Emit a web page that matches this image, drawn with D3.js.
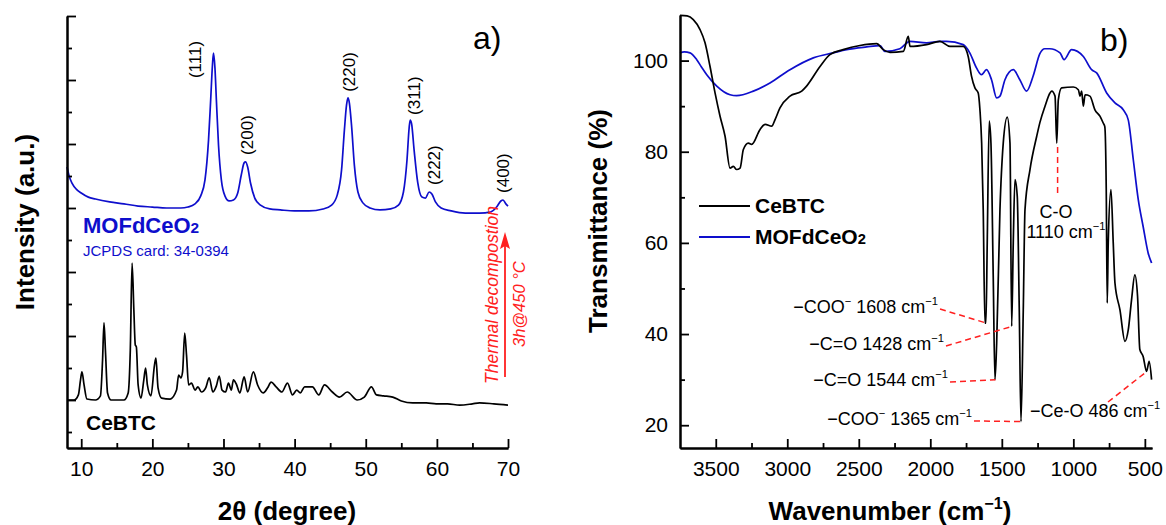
<!DOCTYPE html>
<html>
<head>
<meta charset="utf-8">
<script src="https://cdn.jsdelivr.net/npm/d3@7"></script>
<style>
body { margin: 0; background: #fff; }
svg text { font-family: "Liberation Sans", Arial, sans-serif; }
</style>
</head>
<body>
<svg id="chart" width="1166" height="525"></svg>
<script>
// a) XRD patterns: [2theta (deg), intensity (a.u.)]
var xrdCeBTC = [
    [8.0,1.5],[9.0,1.5],[9.6,1.66],[9.9,2.13],[10.1,2.38],[10.4,1.97],[10.8,1.53],[12,1.5],[12.7,1.63],[13.0,2.75],
    [13.2,3.91],[13.4,3.06],[13.7,1.72],[14.2,1.5],[16.0,1.5],[16.6,1.72],[16.9,3.06],[17.15,5.78],[17.4,4.31],[17.6,3.22],
    [17.75,3.16],[18.0,1.97],[18.4,1.56],[18.8,2.13],[19.05,2.5],[19.3,1.97],[19.8,1.63],[20.3,2.59],[20.5,2.81],[20.8,1.88],
    [21.3,1.56],[22.5,1.53],[23.4,1.81],[23.7,2.28],[24.0,2.19],[24.25,2.38],[24.55,3.59],[24.8,2.91],[25.1,1.97],[25.5,2.03],
    [26.0,1.81],[26.4,1.91],[26.9,1.75],[27.5,1.88],[28.0,2.19],[28.5,1.75],[29.0,1.94],[29.4,2.25],[29.8,1.81],[30.3,1.75],
    [30.7,2.03],[31.1,1.81],[31.4,2.13],[31.8,2.0],[32.3,1.72],[32.9,2.22],[33.4,1.75],[34.2,2.38],[34.8,1.97],[35.6,1.72],
    [36.2,1.88],[36.7,2.06],[37.4,1.91],[38.2,1.75],[39.0,2.03],[39.7,1.66],[40.3,1.81],[40.8,1.72],[41.4,1.91],[42.5,1.91],
    [43.4,1.66],[44.2,1.97],[45.3,1.75],[46.3,1.59],[47.4,1.75],[48.8,1.5],[49.8,1.59],[50.8,1.91],[51.5,1.66],[52.5,1.63],
    [53.8,1.59],[55.0,1.47],[56.6,1.41],[58.5,1.41],[59.9,1.38],[61.5,1.38],[63.2,1.34],[65,1.38],[66,1.41],[68,1.38],[70,1.34]
];
var xrdCeO2 = [
    [8.0,8.78],[8.3,8.5],[8.7,8.28],[9.3,8.09],[10,7.97],[11,7.84],[12,7.78],[14,7.69],[16,7.63],[18,7.56],
    [20,7.53],[22,7.5],[24,7.5],[25,7.53],[26,7.63],[26.8,7.88],[27.4,8.38],[27.9,9.63],[28.2,10.88],[28.45,11.97],
    [28.6,12.34],[28.8,11.88],[29.0,10.88],[29.3,9.47],[29.7,8.38],[30.2,7.88],[30.8,7.72],[31.4,7.75],[32.0,7.97],[32.5,8.53],
    [32.9,8.91],[33.1,8.94],[33.4,8.78],[33.8,8.28],[34.4,7.81],[35.2,7.59],[36.5,7.47],[38,7.44],[40,7.41],[42,7.41],
    [44,7.47],[45.2,7.59],[46.0,7.91],[46.6,8.69],[47.0,9.94],[47.3,10.72],[47.5,10.94],[47.7,10.78],[48.0,10.09],[48.4,8.84],
    [48.9,8.0],[49.6,7.66],[50.6,7.5],[52,7.44],[53.5,7.47],[54.6,7.59],[55.3,8.0],[55.8,9.0],[56.1,10.0],[56.25,10.25],
    [56.45,10.13],[56.8,9.31],[57.3,8.31],[57.9,7.84],[58.4,7.81],[58.9,8.0],[59.3,7.94],[59.8,7.69],[60.6,7.5],[62,7.41],
    [64,7.34],[66,7.34],[67.6,7.38],[68.4,7.53],[69.0,7.72],[69.3,7.75],[69.7,7.63],[70,7.56]
];
var hklNames = ['(111)', '(200)', '(220)', '(311)', '(222)', '(400)'];
var hklAt = [[26.0,11.56],[33.3,9.16],[47.7,11.13],[56.8,10.41],[59.6,8.22],[69.3,7.97]];
var xrdMajor = [10, 20, 30, 40, 50, 60, 70];
var xrdMinor = [15, 25, 35, 45, 55, 65];
var intMajor = [1.5, 3.5, 5.5, 7.5, 9.5, 11.5, 13.5];
var intMinor = [0.5, 2.5, 4.5, 6.5, 8.5, 10.5, 12.5];

// b) FTIR spectra: [wavenumber (cm-1), transmittance (%)]
var irCeBTC = [
    [3750,109.9],[3700,109.8],[3657,109],[3610,106.8],[3575,103.9],[3540,98.7],[3505,92.9],[3470,87.8],[3435,83.4],[3400,76.4],
    [3377,76.8],[3354,76.1],[3330,76.4],[3307,80.5],[3272,81.9],[3249,81.6],[3190,84.9],[3155,86],[3109,85.6],[3086,87],
    [3051,89.6],[2981,92.2],[2899,93.3],[2865,94.4],[2771,98.7],[2702,101.3],[2609,102.4],[2492,103.3],[2375,103.7],[2329,102.4],
    [2282,101.8],[2189,102],[2154,105.3],[2142,103.1],[2026,103.5],[1933,104.2],[1863,103.1],[1770,103.1],[1735,100.9],[1712,96.6],
    [1688,94],[1665,92.9],[1653,89.2],[1641,81.9],[1630,67.3],[1618,42.4],[1611,42.4],[1602,60],[1588,86.7],[1576,81.9],
    [1560,52.6],[1548,30],[1536,38],[1513,67.3],[1490,81.9],[1462,87.6],[1443,81.9],[1431,41.7],[1420,60],[1408,73.9],
    [1392,70.2],[1378,45.3],[1366,20.8],[1350,45.3],[1338,67.3],[1303,76.1],[1256,83.4],[1233,86.5],[1198,90],[1163,92.9],
    [1151,93.3],[1128,92.2],[1116,81.9],[1105,91.4],[1082,94],[1000,94.2],[965,93.6],[953,92.2],[942,93.3],[930,90],
    [918,92.5],[884,92.2],[849,89.2],[814,87.8],[791,86.3],[780,85.5],[770,72],[763,46.8],[756,60],[737,71.7],
    [721,60],[709,51.2],[674,45.3],[639,38.4],[616,40.9],[593,47.5],[570,53],[551,48.3],[535,36.6],[512,35.1],
    [488,31.8],[470,34],[453,30]
];
var irCeO2 = [
    [3750,101.7],[3720,101.9],[3680,101.7],[3633,100.2],[3600,98.6],[3563,96.9],[3493,94.4],[3400,92.5],[3354,92.3],[3237,93.3],
    [3121,95.1],[2981,98],[2818,100.6],[2678,101.7],[2585,102.4],[2445,103],[2352,103.3],[2317,102],[2213,102.6],[2143,104.2],
    [2026,103.9],[1933,104.2],[1886,104.2],[1770,103.5],[1724,101.7],[1677,98.4],[1642,96.9],[1607,98],[1572,95.8],[1536,91.8],
    [1513,92.2],[1478,95.8],[1420,98],[1374,95.8],[1327,93.3],[1281,96.6],[1234,101.5],[1200,102.6],[1165,102.6],[1093,101.7],
    [1065,100.2],[1012,102.4],[930,100.9],[872,98],[837,97.3],[767,92.9],[709,90.7],[651,89.2],[616,87],[581,78.3],
    [546,69.5],[512,63.6],[477,57.8],[453,55.6]
];
var wnMajor = [3500, 3000, 2500, 2000, 1500, 1000, 500];
var wnMinor = [3250, 2750, 2250, 1750, 1250, 750];
var tMajor = [20, 40, 60, 80, 100];
var tMinor = [30, 50, 70, 90];
var bandGroup = ['COO', 'C=O', 'C=O', 'COO'];
var bandWn = [1608, 1428, 1544, 1365];
var bandT = [42.4, 41.7, 30, 20.8];
var bandLabelAt = [[938,313],[944,350],[948,386],[972,425]];

var blue = '#0e0ecc', red = '#ff2020';
var svg = d3.select('#chart');

var xL = d3.scaleLinear().domain([8, 70]).range([67, 508]);
var yL = d3.scaleLinear().domain([0, 13.5]).range([448, 16]);
var xR = d3.scaleLinear().domain([3750, 450]).range([680, 1152]);
var yR = d3.scaleLinear().domain([15, 110]).range([448, 15]);

// text with super/subscript parts: [[string, 'sup'|'sub'|undefined], ...]
var addParts = function(txt, parts, fs) {
    var shift = 0;
    parts.forEach(function(p) {
        var want = p[1] === 'sup' ? -0.42 * fs : 0;
        var ts = txt.append('tspan').text(p[0]).attr('dy', want - shift);
        if (p[1] === 'sup') ts.attr('font-size', 0.62 * fs);
        if (p[1] === 'sub') ts.attr('font-size', 0.7 * fs);
        shift = want;
    });
    return txt;
};

var addAxis = function(axis, tx, ty) {
    var g = svg.append('g').attr('transform', 'translate(' + tx + ',' + ty + ')').call(axis)
        .attr('font-size', 21).attr('font-family', '"Liberation Sans", Arial, sans-serif');
    g.select('.domain').attr('stroke-width', 2);
    g.selectAll('.tick line').attr('stroke-width', 1.8);
    g.selectAll('.tick text').attr('fill', '#000');
    return g;
};

var drawLine = function(data, xs, ys, col) {
    svg.append('path').datum(data)
        .attr('fill', 'none').attr('stroke', col).attr('stroke-width', 1.7)
        .attr('stroke-linejoin', 'round')
        .attr('d', d3.line().x(function(d) { return xs(d[0]); })
            .y(function(d) { return ys(d[1]); }).curve(d3.curveMonotoneX));
};

// ---------- a) ----------
drawLine(xrdCeO2, xL, yL, blue);
drawLine(xrdCeBTC, xL, yL, '#000');

addAxis(d3.axisBottom(xL).tickValues(xrdMajor).tickSizeInner(-9).tickSizeOuter(0).tickPadding(13).tickFormat(d3.format('d')), 0, 448);
addAxis(d3.axisBottom(xL).tickValues(xrdMinor).tickSizeInner(-5).tickSizeOuter(0).tickFormat(''), 0, 448);
addAxis(d3.axisLeft(yL).tickValues(intMajor).tickSizeInner(-9).tickSizeOuter(0).tickFormat(''), 67, 0);
addAxis(d3.axisLeft(yL).tickValues(intMinor).tickSizeInner(-5).tickSizeOuter(0).tickFormat(''), 67, 0);

svg.selectAll('.hkl').data(hklNames).enter().append('text').attr('class', 'hkl')
    .attr('transform', function(d, i) {
        return 'translate(' + xL(hklAt[i][0]) + ',' + yL(hklAt[i][1]) + ') rotate(-90)';
    })
    .attr('dy', '0.35em').attr('font-size', 17).text(function(d) { return d; });

addParts(svg.append('text').attr('x', 83).attr('y', 233).attr('font-size', 22)
    .attr('font-weight', 'bold').attr('fill', blue), [['MOFdCeO'], ['2', 'sub']], 22);
svg.append('text').attr('x', 83).attr('y', 256).attr('font-size', 15).attr('fill', blue)
    .text('JCPDS card: 34-0394');
svg.append('text').attr('x', 86).attr('y', 430).attr('font-size', 21).attr('font-weight', 'bold')
    .text('CeBTC');

// heating arrow
svg.append('line').attr('x1', 505).attr('x2', 505).attr('y1', 377).attr('y2', 246)
    .attr('stroke', red).attr('stroke-width', 1.8);
svg.append('path').attr('d', 'M505,232 L510,249 L505,246 L500,249 Z').attr('fill', red);
svg.append('text').attr('transform', 'translate(491.7,384) rotate(-90)').attr('dy', '0.35em')
    .attr('font-size', 17.5).attr('font-style', 'italic').attr('fill', red).text('Thermal decompostion');
svg.append('text').attr('transform', 'translate(519,347) rotate(-90)').attr('dy', '0.35em')
    .attr('font-size', 16.5).attr('font-style', 'italic').attr('fill', red).text('3h@450 °C');

svg.append('text').attr('x', 473).attr('y', 49).attr('font-size', 32).text('a)');
svg.append('text').attr('x', 287).attr('y', 520).attr('text-anchor', 'middle')
    .attr('font-size', 26).attr('font-weight', 'bold').text('2θ (degree)');
svg.append('text').attr('transform', 'translate(25,222) rotate(-90)').attr('dy', '0.35em')
    .attr('text-anchor', 'middle').attr('font-size', 26).attr('font-weight', 'bold')
    .text('Intensity (a.u.)');

// ---------- b) ----------
drawLine(irCeO2, xR, yR, blue);
drawLine(irCeBTC, xR, yR, '#000');

addAxis(d3.axisBottom(xR).tickValues(wnMajor).tickSizeInner(-9).tickSizeOuter(0).tickPadding(13).tickFormat(d3.format('d')), 0, 448);
addAxis(d3.axisBottom(xR).tickValues(wnMinor).tickSizeInner(-5).tickSizeOuter(0).tickFormat(''), 0, 448);
addAxis(d3.axisLeft(yR).tickValues(tMajor).tickSizeInner(-9).tickSizeOuter(0).tickPadding(12).tickFormat(d3.format('d')), 680, 0);
addAxis(d3.axisLeft(yR).tickValues(tMinor).tickSizeInner(-5).tickSizeOuter(0).tickFormat(''), 680, 0);

// legend
var legend = [['CeBTC', '#000', 206], ['MOFdCeO', blue, 237]];
legend.forEach(function(l) {
    svg.append('line').attr('x1', 699).attr('x2', 750).attr('y1', l[2]).attr('y2', l[2])
        .attr('stroke', l[1]).attr('stroke-width', 1.8);
    var t = svg.append('text').attr('x', 755).attr('y', l[2] + 7).attr('font-size', 21)
        .attr('font-weight', 'bold');
    addParts(t, l[0] === 'CeBTC' ? [['CeBTC']] : [['MOFdCeO'], ['2', 'sub']], 21);
});

// band annotations
var dashed = function(x1, y1, x2, y2) {
    svg.append('line').attr('x1', x1).attr('y1', y1).attr('x2', x2).attr('y2', y2)
        .attr('stroke', red).attr('stroke-width', 1.5).attr('stroke-dasharray', '6,4');
};
bandWn.forEach(function(wn, i) {
    var at = bandLabelAt[i], parts = [['−' + bandGroup[i]]];
    if (bandGroup[i] === 'COO') parts.push(['−', 'sup']);
    parts.push([' ' + wn + ' cm'], ['−1', 'sup']);
    addParts(svg.append('text').attr('x', at[0]).attr('y', at[1]).attr('text-anchor', 'end')
        .attr('font-size', 18), parts, 18);
    dashed(at[0] + 2, at[1] - 4, xR(wn), yR(bandT[i]));
});
addParts(svg.append('text').attr('x', 1030).attr('y', 417).attr('font-size', 18),
    [['−Ce-O 486 cm'], ['−1', 'sup']], 18);
dashed(1108, 402, xR(486), yR(31.8));

svg.append('text').attr('x', 1056).attr('y', 218).attr('text-anchor', 'middle')
    .attr('font-size', 18).text('C-O');
addParts(svg.append('text').attr('x', 1066).attr('y', 238).attr('text-anchor', 'middle')
    .attr('font-size', 18), [['1110 cm'], ['−1', 'sup']], 18);
dashed(xR(1110), yR(81.9) + 4, xR(1110), 195);

svg.append('text').attr('x', 1100).attr('y', 51).attr('font-size', 32).text('b)');
addParts(svg.append('text').attr('x', 890).attr('y', 520).attr('text-anchor', 'middle')
    .attr('font-size', 26).attr('font-weight', 'bold'),
    [['Wavenumber (cm'], ['−1', 'sup'], [')']], 26);
svg.append('text').attr('transform', 'translate(598,221) rotate(-90)').attr('dy', '0.35em')
    .attr('text-anchor', 'middle').attr('font-size', 26).attr('font-weight', 'bold')
    .text('Transmittance (%)');
</script>
</body>
</html>
